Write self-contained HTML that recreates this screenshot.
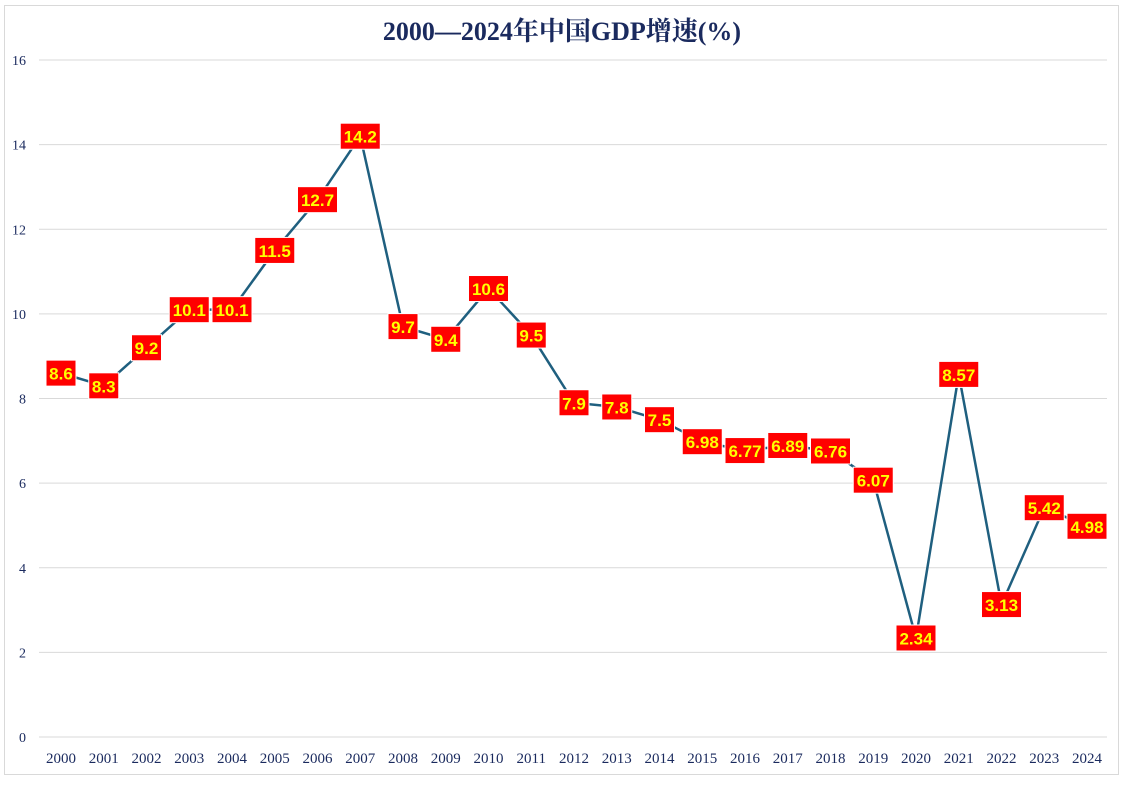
<!DOCTYPE html><html><head><meta charset="utf-8"><style>body{margin:0;background:#fff}</style></head><body>
<svg width="1125" height="780" xmlns="http://www.w3.org/2000/svg">
<rect x="4.5" y="5.5" width="1114" height="769" fill="#fff" stroke="#d9d9d9"/>
<text x="562" y="40" text-anchor="middle" font-family="Liberation Serif, 'Noto Serif CJK SC', serif" font-weight="bold" font-size="26" fill="#1a2a5e">2000—2024年中国GDP增速(%)</text>
<g id="g"></g>
</svg>
<script>
const vals=[8.6,8.3,9.2,10.1,10.1,11.5,12.7,14.2,9.7,9.4,10.6,9.5,7.9,7.8,7.5,6.98,6.77,6.89,6.76,6.07,2.34,8.57,3.13,5.42,4.98];
const lbl=["8.6","8.3","9.2","10.1","10.1","11.5","12.7","14.2","9.7","9.4","10.6","9.5","7.9","7.8","7.5","6.98","6.77","6.89","6.76","6.07","2.34","8.57","3.13","5.42","4.98"];
const X=i=>61+i*42.75, Y=v=>737-v*42.31;
let s='';
for(let t=0;t<=16;t+=2){const y=Y(t);s+=`<line x1="39" x2="1107" y1="${y}" y2="${y}" stroke="#d9d9d9"/><text x="26" y="${y+5}" text-anchor="end" font-family="Liberation Serif,serif" font-size="14" fill="#1a2a5e">${t}</text>`;}
for(let i=0;i<25;i++)s+=`<text x="${X(i)}" y="763" text-anchor="middle" font-family="Liberation Serif,serif" font-size="15" fill="#1a2a5e">${2000+i}</text>`;
s+=`<polyline fill="none" stroke="#1f5f7f" stroke-width="2.5" points="${vals.map((v,i)=>X(i)+','+Y(v)).join(' ')}"/>`;
for(let i=0;i<25;i++){const w=lbl[i].length>3?40:30;s+=`<rect x="${X(i)-w/2}" y="${Y(vals[i])-13}" width="${w}" height="26" fill="#ff0000" stroke="#fff" stroke-width="1"/><text x="${X(i)}" y="${Y(vals[i])+6.5}" text-anchor="middle" font-family="Liberation Sans,sans-serif" font-weight="bold" font-size="17" fill="#ffff00">${lbl[i]}</text>`;}
document.getElementById('g').innerHTML=s;
</script>
</body></html>
